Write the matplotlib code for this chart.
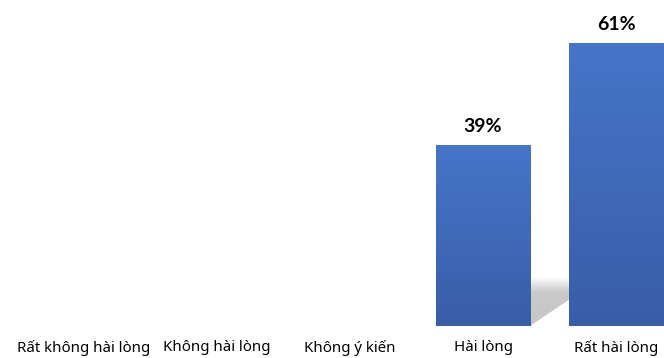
import numpy as np
import matplotlib
matplotlib.use("Agg")
import matplotlib.pyplot as plt
from matplotlib.patches import Polygon

plt.rcParams['font.family'] = ['Noto Sans', 'DejaVu Sans']

categories = ["Rất không hài lòng", "Không hài lòng", "Không ý kiến", "Hài lòng", "Rất hài lòng"]
values = [0, 0, 0, 39, 61]
labels = ["", "", "", "39%", "61%"]

fig = plt.figure(figsize=(6.64, 3.58), dpi=100)
ax = fig.add_axes([0, 32 / 358, 1, 1 - 32 / 358])
x = np.arange(len(categories))
width = 0.714

# gradient used to fill each bar
grad = np.linspace(0, 1, 256).reshape(-1, 1)
cmap = matplotlib.colors.LinearSegmentedColormap.from_list("b", ["#3a5da8", "#4675c8"])
shcmap = matplotlib.colors.LinearSegmentedColormap.from_list(
    "s", [(0, "#c6c6c6"), (0.7, "#cacaca"), (1, "#ffffff")])

for xi, v, lab in zip(x, values, labels):
    if v <= 0:
        continue
    xr = xi + width / 2
    top = v * 0.27
    # soft shadow behind the bar
    sh = Polygon([(xr, 0), (xr, top), (xr + 0.6, top), (xr + 0.6, v * 0.3)],
                 closed=True, facecolor="none", edgecolor="none")
    ax.add_patch(sh)
    shim = ax.imshow(grad, cmap=shcmap, aspect="auto", origin="lower",
                     extent=[xr, xr + 0.6, 0, top], zorder=1)
    shim.set_clip_path(sh)
    bar = ax.bar(xi, v, width=width, color="none", edgecolor="none", zorder=2)[0]
    im = ax.imshow(grad, cmap=cmap, aspect="auto", origin="lower",
                   extent=[xi - width / 2, xi + width / 2, 0, v], zorder=2)
    im.set_clip_path(bar)
    ax.text(xi, v + 2.2, lab, ha="center", va="bottom", fontsize=14,
            fontweight="bold", family=["Lato", "DejaVu Sans"], color="black")

ax.set_xlim(-84 / 133, 580 / 133)
ax.set_ylim(0, 326 / 4.64)
ax.set_xticks(x)
ax.set_xticklabels(categories, fontsize=10.8)
ax.tick_params(axis="x", length=0, pad=10)
ax.set_yticks([])
for s in ax.spines.values():
    s.set_visible(False)

fig.savefig("out.png", dpi=100)
